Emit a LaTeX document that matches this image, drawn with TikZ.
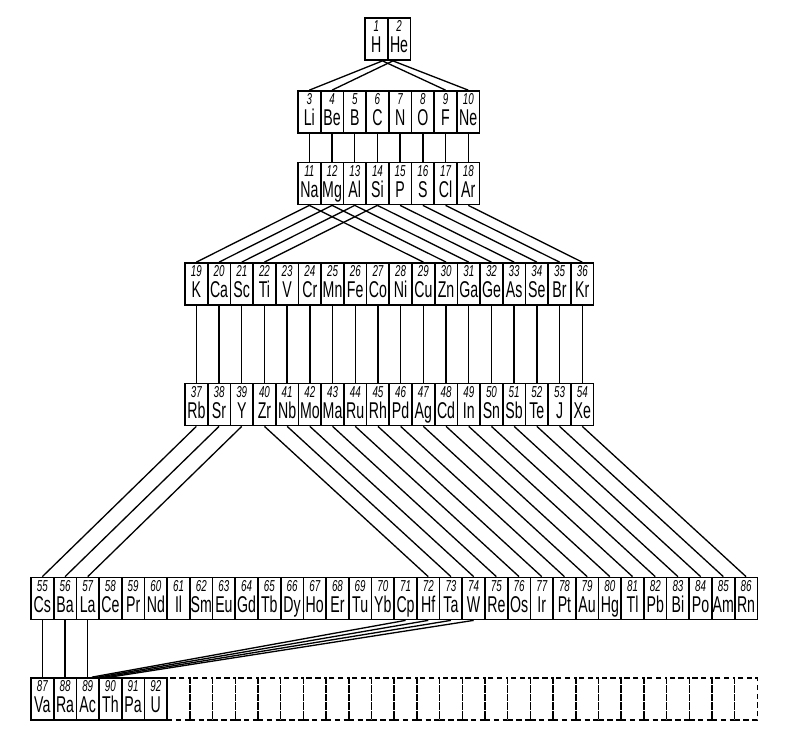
\documentclass[tikz,border=0pt]{standalone}
\usepackage{fontspec}
\newfontfamily\elfont[FakeStretch=0.62]{Liberation Sans}
\usepackage{tikz}
\usetikzlibrary{calc}
\newcommand{\elnum}[1]{{\fontsize{9}{9}\selectfont\itshape #1}}
\newcommand{\elsym}[1]{{\fontsize{13}{13}\selectfont #1\vphantom{Mgy}}}
\tikzset{
    elem/.style={draw, line width=1pt, minimum width=0.454cm, minimum height=0.84cm, inner sep=0pt, align=center, font=\elfont},
    blank/.style={draw, line width=0.9pt, dash pattern=on 3pt off 2pt, minimum width=0.454cm, minimum height=0.84cm, inner sep=0pt},
    link/.style={line width=0.75pt}
}

\begin{document}
\begin{tikzpicture}[x=0.02cm, y=-0.02cm]
    \useasboundingbox (0,0) rectangle (785,750);

    \foreach \n/\s [count=\k from 0] in {1/H, 2/He}
        \node[elem] (e\n) at (365+11.35+\k*22.7, 39) {\elnum{\n}\\[0pt]\elsym{\s}};
    \foreach \n/\s [count=\k from 0] in {3/Li, 4/Be, 5/B, 6/C, 7/N, 8/O, 9/F, 10/Ne}
        \node[elem] (e\n) at (298+11.35+\k*22.7, 112) {\elnum{\n}\\[0pt]\elsym{\s}};
    \foreach \n/\s [count=\k from 0] in {11/Na, 12/Mg, 13/Al, 14/Si, 15/P, 16/S, 17/Cl, 18/Ar}
        \node[elem] (e\n) at (298+11.35+\k*22.7, 183.5) {\elnum{\n}\\[0pt]\elsym{\s}};
    \foreach \n/\s [count=\k from 0] in {19/K, 20/Ca, 21/Sc, 22/Ti, 23/V, 24/Cr, 25/Mn, 26/Fe, 27/Co,
        28/Ni, 29/Cu, 30/Zn, 31/Ga, 32/Ge, 33/As, 34/Se, 35/Br, 36/Kr}
        \node[elem] (e\n) at (185+11.35+\k*22.7, 284) {\elnum{\n}\\[0pt]\elsym{\s}};
    \foreach \n/\s [count=\k from 0] in {37/Rb, 38/Sr, 39/Y, 40/Zr, 41/Nb, 42/Mo, 43/Ma, 44/Ru, 45/Rh,
        46/Pd, 47/Ag, 48/Cd, 49/In, 50/Sn, 51/Sb, 52/Te, 53/J, 54/Xe}
        \node[elem] (e\n) at (185+11.35+\k*22.7, 404.5) {\elnum{\n}\\[0pt]\elsym{\s}};
    \foreach \n/\s [count=\k from 0] in {55/Cs, 56/Ba, 57/La, 58/Ce, 59/Pr, 60/Nd, 61/Il, 62/Sm, 63/Eu,
        64/Gd, 65/Tb, 66/Dy, 67/Ho, 68/Er, 69/Tu, 70/Yb, 71/Cp, 72/Hf, 73/Ta, 74/W, 75/Re, 76/Os,
        77/Ir, 78/Pt, 79/Au, 80/Hg, 81/Tl, 82/Pb, 83/Bi, 84/Po, 85/Am, 86/Rn}
        \node[elem] (e\n) at (31+11.35+\k*22.7, 598.5) {\elnum{\n}\\[0pt]\elsym{\s}};
    \foreach \n/\s [count=\k from 0] in {87/Va, 88/Ra, 89/Ac, 90/Th, 91/Pa, 92/U}
        \node[elem] (e\n) at (31+11.35+\k*22.7, 699) {\elnum{\n}\\[0pt]\elsym{\s}};
    \foreach \k in {6,...,31}
        \node[blank] (d\k) at (31+11.35+\k*22.7, 699) {};

    \coordinate (hfoot) at ($(e1.south)!0.5!(e1.south east)$);
    \coordinate (hefoot) at ($(e2.south)!0.5!(e2.south west)$);
    \draw[link] (hfoot) -- (e3.north);
    \draw[link] (hfoot) -- (e9.north);
    \draw[link] (hefoot) -- (e4.north);
    \draw[link] (hefoot) -- (e10.north);

    \foreach \a [evaluate=\a as \b using int(\a+8)] in {3,...,10}
        \draw[link] (e\a.south) -- (e\b.north);
    \foreach \a [evaluate=\a as \b using int(\a+8)] in {11,...,14}
        \draw[link] (e\a.south) -- (e\b.north);
    \foreach \a [evaluate=\a as \b using int(\a+18)] in {11,...,18}
        \draw[link] (e\a.south) -- (e\b.north);
    \foreach \a [evaluate=\a as \b using int(\a+18)] in {19,...,39}
        \draw[link] (e\a.south) -- (e\b.north);
    \foreach \a [evaluate=\a as \b using int(\a+32)] in {40,...,57}
        \draw[link] (e\a.south) -- (e\b.north);
    \foreach \a/\d in {71/-8, 72/-2, 73/4, 74/10}
        \draw[link] (e\a.south) -- ($(e89.north east)+(\d,0)$);

\end{tikzpicture}
\end{document}
